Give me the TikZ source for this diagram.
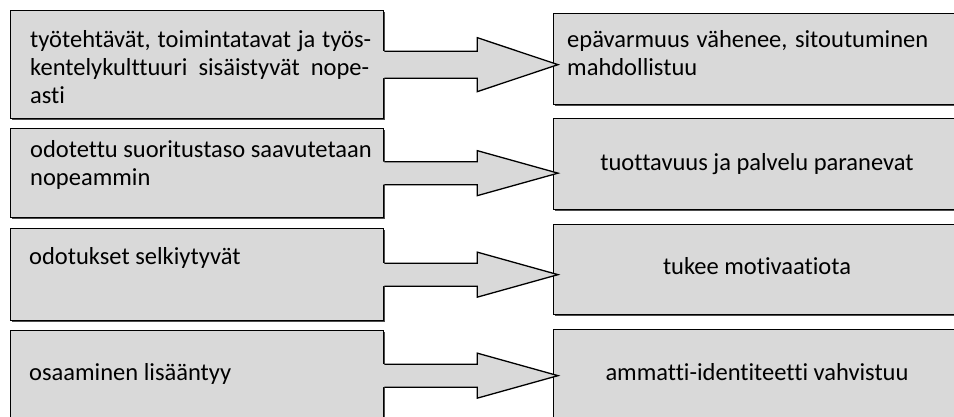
\documentclass[tikz,border=0pt]{standalone}
\usepackage{fontspec}
\setmainfont[Ligatures=NoCommon]{Carlito}
\usetikzlibrary{calc,shadows}
\definecolor{boxgray}{RGB}{217,217,217}
\tikzset{
  panel/.style={rectangle, draw=black, line width=1.3pt, fill=boxgray,
    anchor=north west, inner sep=0pt,
    general shadow={fill=black!70, shadow xshift=0.9pt, shadow yshift=-0.9pt}},
  boxtext/.style={font=\fontsize{24.5}{28}\selectfont, inner sep=0pt},
  arrowline/.style={draw=black, line width=1.3pt, line join=miter},
}
% block arrow leaving box #1 and pointing into box #2;
% #3 = half width of the shaft, #4 = half width of the head
\newcommand\blockarrow[4]{%
  \fill[boxgray] ($(#1.east)+(-2,-#3)$) -- ($(#1.east)+(93,-#3)$)
    -- ($(#1.east)+(93,-#4)$) -- ($(#1.east -| #2.west)+(5,0)$)
    -- ($(#1.east)+(93,#4)$) -- ($(#1.east)+(93,#3)$)
    -- ($(#1.east)+(-2,#3)$) -- cycle;
  \draw[arrowline] ($(#1.east)+(0,-#3)$) -- ($(#1.east)+(93,-#3)$)
    -- ($(#1.east)+(93,-#4)$) -- ($(#1.east -| #2.west)+(5,0)$)
    -- ($(#1.east)+(93,#4)$) -- ($(#1.east)+(93,#3)$)
    -- ($(#1.east)+(0,#3)$);
}
\begin{document}
\begin{tikzpicture}[x=1pt,y=-1pt]
\useasboundingbox (0,0) rectangle (954,416);
\clip (0,0) rectangle (954,416);
\fill[white] (0,0) rectangle (954,416);

% left column
\node[panel, minimum width=373pt, minimum height=108pt] (l1) at (10,10) {};
\node[panel, minimum width=373pt, minimum height=89pt]  (l2) at (10,128) {};
\node[panel, minimum width=373pt, minimum height=92pt]  (l3) at (10,228) {};
\node[panel, minimum width=373pt, minimum height=90pt]  (l4) at (10,330) {};

% right column
\node[panel, minimum width=410pt, minimum height=91pt] (r1) at (553,13) {};
\node[panel, minimum width=410pt, minimum height=91pt] (r2) at (553,118) {};
\node[panel, minimum width=410pt, minimum height=90pt] (r3) at (553,224) {};
\node[panel, minimum width=410pt, minimum height=91pt] (r4) at (553,329) {};

% arrows
\blockarrow{l1}{r1}{13.5}{27}
\blockarrow{l2}{r2}{11.5}{22.5}
\blockarrow{l3}{r3}{11.5}{22.5}
\blockarrow{l4}{r4}{11.5}{22.5}

% texts, left
\node[boxtext, anchor=base west] (tl1) at (30,47) {\parbox[t]{341pt}{%
  \makebox[341pt][s]{työtehtävät, toimintatavat ja työs-}\\
  \makebox[339pt][s]{kentelykulttuuri sisäistyvät nope-}\\
  asti}};
\node[boxtext, anchor=base west] (tl2) at (30,157) {\parbox[t]{346pt}{%
  odotettu suoritustaso saavutetaan\\
  nopeammin}};
\node[boxtext, anchor=base west] (tl3) at (29,264) {odotukset selkiytyvät};
\node[boxtext, anchor=base west] (tl4) at (29,380) {osaaminen lisääntyy};

% texts, right
\node[boxtext, anchor=base west] (tr1) at (567,47) {\parbox[t]{361pt}{%
  \makebox[361pt][s]{epävarmuus vähenee, sitoutuminen}\\
  mahdollistuu}};
\node[boxtext, anchor=base] (tr2) at (757,170) {tuottavuus ja palvelu paranevat};
\node[boxtext, anchor=base] (tr3) at (757,274) {tukee motivaatiota};
\node[boxtext, anchor=base] (tr4) at (757,380) {ammatti-identiteetti vahvistuu};
\end{tikzpicture}
\end{document}
